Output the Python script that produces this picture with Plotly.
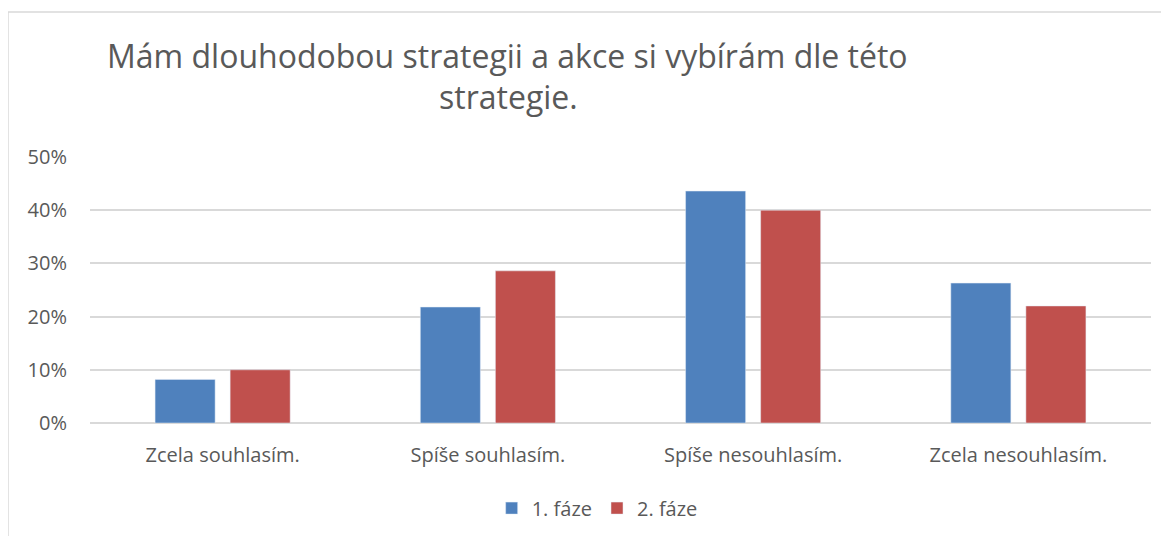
import plotly.graph_objects as go

# Data
categories = ["Zcela souhlasím.", "Spíše souhlasím.", "Spíše nesouhlasím.", "Zcela nesouhlasím."]
faze1 = [0.082, 0.218, 0.436, 0.263]
faze2 = [0.100, 0.286, 0.400, 0.220]
series_names = ["1. fáze", "2. fáze"]
title_lines = ["Mám dlouhodobou strategii a akce si vybírám dle této", "strategie."]

font_family = "'Open Sans', sans-serif"
text_color = "#595959"

fig = go.Figure()
fig.add_trace(go.Bar(x=categories, y=faze1, name=series_names[0], marker_color="#4F81BD"))
fig.add_trace(go.Bar(x=categories, y=faze2, name=series_names[1], marker_color="#C0504D"))

# page has an 8px body margin, so margins are set 8px smaller
fig.update_layout(
    width=1169, height=536,
    margin={"l": 82, "r": 26, "t": 149, "b": 121},
    paper_bgcolor="white", plot_bgcolor="white",
    font={"family": font_family, "color": text_color, "size": 20},
    barmode="group", bargap=0.434, bargroupgap=0.2,
    legend={"orientation": "h", "x": 0.478, "xanchor": "center",
            "y": -0.32, "yanchor": "middle", "font": {"size": 20},
            "itemwidth": 30, "traceorder": "normal"},
    showlegend=True,
)

fig.update_yaxes(range=[0, 0.5], dtick=0.1, tickformat=".0%",
                 showgrid=True, gridcolor="#D9D9D9", gridwidth=1.5,
                 zeroline=True, zerolinecolor="#D9D9D9", zerolinewidth=1.5,
                 ticks="", ticklabelstandoff=22, showline=False)
fig.update_xaxes(showgrid=False, showline=False, ticks="", ticklabelstandoff=18)

# Title (two lines, as wrapped in the original)
fig.add_annotation(text=title_lines[0], xref="paper", yref="paper",
                   x=0.3935, y=1.380, xanchor="center", yanchor="middle",
                   showarrow=False,
                   font={"size": 32, "color": text_color, "family": font_family})
fig.add_annotation(text=title_lines[1], xref="paper", yref="paper",
                   x=0.3945, y=1.2256, xanchor="center", yanchor="middle",
                   showarrow=False,
                   font={"size": 32, "color": text_color, "family": font_family})

# Chart area border (top and left visible)
fig.add_shape(type="line", xref="paper", yref="paper",
              x0=-0.0773, x1=1.1, y0=1.545, y1=1.545,
              line={"color": "#D9D9D9", "width": 1.5})
fig.add_shape(type="line", xref="paper", yref="paper",
              x0=-0.0773, x1=-0.0773, y0=1.545, y1=-0.5,
              line={"color": "#D9D9D9", "width": 1.5})

fig.write_html("out.html")
